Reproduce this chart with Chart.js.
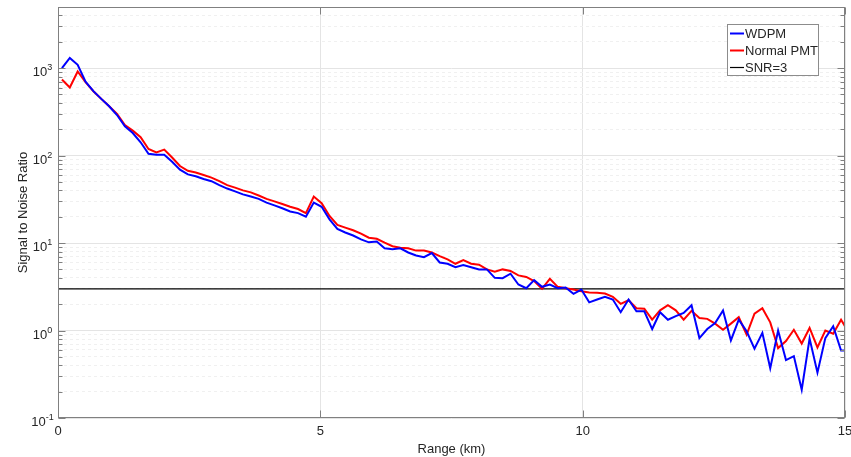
<!DOCTYPE html>
<html>
<head>
<meta charset="utf-8">
<script src="https://cdn.jsdelivr.net/npm/chart.js@4.4.1/dist/chart.umd.min.js"></script>
<style>
  html, body { margin: 0; padding: 0; background: #fff; }
  #wrap { width: 851px; height: 457px; }
</style>
</head>
<body>
<div id="wrap"><canvas id="grafico" width="851" height="457"></canvas></div>
<script>
// Distancia (km), centro de cada celda de 150 m
const rangoKm = [
  0.075, 0.225, 0.375, 0.525, 0.675, 0.825, 0.975, 1.125, 1.275, 1.425,
  1.575, 1.725, 1.875, 2.025, 2.175, 2.325, 2.475, 2.625, 2.775, 2.925,
  3.075, 3.225, 3.375, 3.525, 3.675, 3.825, 3.975, 4.125, 4.275, 4.425,
  4.575, 4.725, 4.875, 5.025, 5.175, 5.325, 5.475, 5.625, 5.775, 5.925,
  6.075, 6.225, 6.375, 6.525, 6.675, 6.825, 6.975, 7.125, 7.275, 7.425,
  7.575, 7.725, 7.875, 8.025, 8.175, 8.325, 8.475, 8.625, 8.775, 8.925,
  9.075, 9.225, 9.375, 9.525, 9.675, 9.825, 9.975, 10.125, 10.275, 10.425,
  10.575, 10.725, 10.875, 11.025, 11.175, 11.325, 11.475, 11.625, 11.775, 11.925,
  12.075, 12.225, 12.375, 12.525, 12.675, 12.825, 12.975, 13.125, 13.275, 13.425,
  13.575, 13.725, 13.875, 14.025, 14.175, 14.325, 14.475, 14.625, 14.775, 14.925,
  15.075
];

// SNR del detector WDPM
const snrWdpm = [
  1000, 1310, 1090, 700, 545, 445, 367, 291, 216, 181,
  142, 105, 102, 102, 85, 69, 61, 58, 54, 51,
  46, 42, 39, 36, 34, 32, 29, 27, 25, 23,
  22, 20, 29, 26, 18.7, 14.5, 13.2, 12.2, 11, 10.2,
  10.4, 8.7, 8.5, 8.7, 7.8, 7.2, 6.9, 7.7, 6.0, 5.8,
  5.3, 5.6, 5.3, 5.0, 5.0, 4.0, 3.97, 4.46, 3.36, 3.05,
  3.77, 3.16, 3.36, 3.05, 3.1, 2.63, 2.94, 2.1, 2.26, 2.43,
  2.26, 1.62, 2.26, 1.66, 1.66, 1.04, 1.62, 1.33, 1.46, 1.59,
  1.95, 0.82, 1.04, 1.22, 1.7, 0.77, 1.33, 0.98, 0.62, 0.94,
  0.37, 1.0, 0.46, 0.51, 0.21, 0.81, 0.33, 0.82, 1.12, 0.59,
  0.59
];

// SNR del PMT normal
const snrPmt = [
  740, 600, 915, 690, 545, 445, 367, 299, 224, 193,
  162, 119, 109, 117, 95, 76, 67, 64, 60, 56,
  51, 46, 43, 40, 38, 35, 32, 30, 28, 26,
  24.5, 22, 34, 28.6, 20.4, 16.1, 15, 14, 12.8, 11.5,
  11.2, 10.1, 9.2, 8.85, 8.7, 8.2, 8.2, 7.8, 7.1, 6.5,
  5.8, 6.4, 5.8, 5.65, 5.0, 4.7, 5.0, 4.8, 4.27, 4.1,
  3.67, 3.0, 3.9, 3.16, 3.05, 2.94, 2.82, 2.72, 2.7, 2.65,
  2.43, 2.02, 2.22, 1.8, 1.78, 1.33, 1.7, 1.95, 1.7, 1.33,
  1.68, 1.39, 1.36, 1.2, 1.02, 1.2, 1.42, 0.9, 1.56, 1.8,
  1.24, 0.63, 0.76, 1.02, 0.71, 1.07, 0.64, 1.0, 0.92, 1.33,
  0.94
];

// Umbral SNR = 3
const umbralX = [0, 15];
const umbralY = [3, 3];

const xTicks = [0, 5, 10, 15];
const yDecadas = [0.1, 1, 10, 100, 1000];
const yMin = 0.1, yMax = 5000;

const fuente = '"Liberation Sans", Arial, Helvetica, sans-serif';
const colorTexto = '#262626';

// ticks menores del eje log (2..9 por decada)
const yTicks = [];
yDecadas.forEach(d => {
  for (let k = 1; k <= 9; k++) {
    const v = +(d * k).toPrecision(3);
    if (v <= yMax) yTicks.push(v);
  }
});
yTicks.push(yMax);

const esDecada = v => yDecadas.some(d => Math.abs(d - v) < 1e-9);

const puntos = (xs, ys) => xs.map((x, i) => ({ x: x, y: ys[i] }));

// ejes estilo MATLAB: caja, ticks hacia adentro, etiquetas 10^n y leyenda
const estiloMatlab = {
  id: 'estiloMatlab',
  afterDraw(chart) {
    const { ctx, chartArea: a, scales: { x, y } } = chart;
    const L = Math.round(a.left) + 0.5, R = Math.round(a.right) - 0.5;
    const T = Math.round(a.top) + 0.5, B = Math.round(a.bottom) - 0.5;
    ctx.save();
    ctx.strokeStyle = '#808080';
    ctx.lineWidth = 1;
    const linea = (x1, y1, x2, y2) => {
      ctx.beginPath(); ctx.moveTo(x1, y1); ctx.lineTo(x2, y2); ctx.stroke();
    };
    ctx.strokeRect(L, T, R - L, B - T);

    x.ticks.forEach(t => {
      const px = Math.round(x.getPixelForValue(t.value)) + 0.5;
      linea(px, B, px, B - 7);
      linea(px, T, px, T + 7);
    });
    y.ticks.forEach(t => {
      if (t.value >= yMax) return;
      const py = Math.round(y.getPixelForValue(t.value)) + 0.5;
      const len = esDecada(t.value) ? 7 : 4;
      linea(L, py, L + len, py);
      linea(R, py, R - len, py);
    });

    // etiquetas 10^n
    ctx.fillStyle = colorTexto;
    ctx.textBaseline = 'alphabetic';
    ctx.textAlign = 'left';
    yDecadas.forEach(d => {
      const py = y.getPixelForValue(d);
      const exp = String(Math.round(Math.log10(d)));
      ctx.font = '13px ' + fuente;
      const wBase = ctx.measureText('10').width;
      ctx.font = '9px ' + fuente;
      const wExp = ctx.measureText(exp).width;
      const x0 = 42.5 - (wBase + wExp) / 2;
      ctx.font = '13px ' + fuente;
      ctx.fillText('10', x0, py + 8);
      ctx.font = '9px ' + fuente;
      ctx.fillText(exp, x0 + wBase, py + 2);
    });

    // leyenda
    const lx = 727.5, ly = 24.5, lw = 91, lh = 51;
    ctx.fillStyle = '#ffffff';
    ctx.fillRect(lx, ly, lw, lh);
    ctx.strokeStyle = '#8c8c8c';
    ctx.strokeRect(lx, ly, lw, lh);
    ctx.font = '13px ' + fuente;
    ctx.textBaseline = 'middle';
    chart.data.datasets.forEach((ds, i) => {
      const cy = 33.5 + i * 17;
      ctx.strokeStyle = ds.borderColor;
      ctx.lineWidth = ds.borderWidth;
      linea(730, cy, 744, cy);
      ctx.fillStyle = colorTexto;
      ctx.fillText(ds.label, 745, cy + 1);
    });
    ctx.restore();
  }
};

const config = {
  type: 'line',
  data: {
    datasets: [
      { label: 'WDPM', data: puntos(rangoKm, snrWdpm), borderColor: '#0000ff', borderWidth: 2 },
      { label: 'Normal PMT', data: puntos(rangoKm, snrPmt), borderColor: '#ff0000', borderWidth: 2 },
      { label: 'SNR=3', data: puntos(umbralX, umbralY), borderColor: '#000000', borderWidth: 1.2 }
    ]
  },
  options: {
    responsive: false,
    animation: false,
    events: [],
    layout: { padding: { left: 0, top: 7, right: 6, bottom: 0 } },
    elements: { point: { radius: 0 }, line: { tension: 0, fill: false } },
    plugins: { legend: { display: false }, tooltip: { enabled: false } },
    scales: {
      x: {
        type: 'linear',
        min: 0, max: 15,
        afterBuildTicks: s => { s.ticks = xTicks.map(v => ({ value: v })); },
        afterFit: s => { s.height = 39; s.paddingLeft = 0; s.paddingRight = 0; },
        grid: { color: '#e4e4e4', drawTicks: false },
        border: { display: false },
        ticks: { autoSkip: false, padding: 6, color: colorTexto, font: { family: fuente, size: 13 } },
        title: { display: true, text: 'Range (km)', color: colorTexto,
                 font: { family: fuente, size: 13 }, padding: { top: 0, bottom: 0 } }
      },
      y: {
        type: 'logarithmic',
        min: yMin, max: yMax,
        afterBuildTicks: s => { s.ticks = yTicks.map(v => ({ value: v })); },
        afterFit: s => { s.width = 58; s.paddingTop = 0; s.paddingBottom = 0; },
        grid: {
          color: c => (c.tick && esDecada(c.tick.value)) ? '#e4e4e4' : '#f0f0f0',
          drawTicks: false
        },
        border: {
          display: false,
          dash: c => (c.tick && esDecada(c.tick.value)) ? [] : [3, 3]
        },
        ticks: { display: false, autoSkip: false },
        title: { display: true, text: 'Signal to Noise Ratio', color: colorTexto,
                 font: { family: fuente, size: 13 }, padding: { top: 16, bottom: 0 } }
      }
    }
  },
  plugins: [estiloMatlab]
};

const ctx = document.getElementById('grafico').getContext('2d');
new Chart(ctx, config);
</script>
</body>
</html>
